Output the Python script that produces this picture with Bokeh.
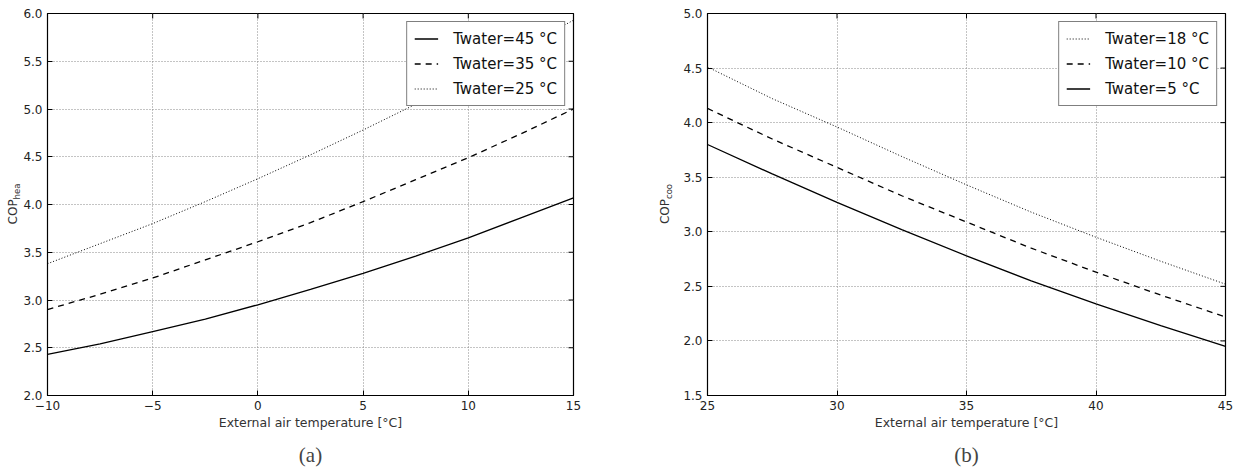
import math
from bokeh.plotting import figure
from bokeh.layouts import row
from bokeh.models import Legend, LegendItem, Title, FixedTicker, Div
from bokeh.embed import file_html
from bokeh.resources import INLINE

# ---- data: heating (a) ----
t_ext_hea = [-10, -7.5, -5, -2.5, 0, 2.5, 5, 7.5, 10, 12.5, 15]
cop_hea_45 = [2.43, 2.54, 2.67, 2.80, 2.95, 3.11, 3.28, 3.46, 3.65, 3.86, 4.07]
cop_hea_35 = [2.90, 3.06, 3.23, 3.42, 3.61, 3.81, 4.03, 4.26, 4.49, 4.74, 5.00]
cop_hea_25 = [3.38, 3.59, 3.80, 4.03, 4.27, 4.52, 4.78, 5.05, 5.34, 5.63, 5.93]

# ---- data: cooling (b) ----
t_ext_coo = [25, 27.5, 30, 32.5, 35, 37.5, 40, 42.5, 45]
cop_coo_18 = [4.51, 4.22, 3.96, 3.69, 3.43, 3.18, 2.95, 2.73, 2.52]
cop_coo_10 = [4.13, 3.85, 3.59, 3.33, 3.09, 2.85, 2.63, 2.42, 2.22]
cop_coo_5 = [3.80, 3.53, 3.27, 3.02, 2.78, 2.55, 2.34, 2.14, 1.95]

xticks_hea = [-10, -5, 0, 5, 10, 15]
yticks_hea = [2.0, 2.5, 3.0, 3.5, 4.0, 4.5, 5.0, 5.5, 6.0]
xticks_coo = [25, 30, 35, 40, 45]
yticks_coo = [1.5, 2.0, 2.5, 3.0, 3.5, 4.0, 4.5, 5.0]

FONT = "DejaVu Sans"
FIG_H = 474


def style_axis(ax, ticks):
    ax.ticker = FixedTicker(ticks=ticks)
    ax.major_tick_in = 5
    ax.major_tick_out = 0
    ax.minor_tick_line_color = None
    ax.axis_line_color = "black"
    ax.major_tick_line_color = "black"
    ax.major_label_text_font = FONT
    ax.major_label_text_color = "#222222"
    ax.major_label_text_font_size = "12px"
    ax.major_label_standoff = 5


def make_fig(xr, yr, xticks, yticks, border_left, border_right, frame_w):
    p = figure(frame_width=frame_w, frame_height=382, x_range=xr, y_range=yr,
               output_backend="svg", toolbar_location=None,
               min_border_left=border_left, min_border_right=border_right,
               min_border_top=13, min_border_bottom=10)
    p.outline_line_color = "black"
    p.outline_line_width = 1.2
    xa = p.below[0]
    ya = p.left[0]
    style_axis(xa, xticks)
    style_axis(ya, yticks)
    xa.major_label_overrides = {t: (str(t).replace("-", "\u2212")) for t in xticks}
    ya.major_label_overrides = {t: f"{t:.1f}" for t in yticks}
    xa.axis_label = "External air temperature [\u00b0C]"
    xa.axis_label_standoff = 2
    xa.axis_label_text_font = FONT
    xa.axis_label_text_font_style = "normal"
    xa.axis_label_text_font_size = "12.5px"
    xa.axis_label_text_color = "#333333"
    p.grid.grid_line_color = "#888888"
    p.grid.grid_line_dash = "1 2"
    p.grid.grid_line_width = 1
    p.xgrid.ticker = FixedTicker(ticks=xticks)
    p.ygrid.ticker = FixedTicker(ticks=yticks)
    # inward ticks on the top and right edges (clipped half of a dash marker)
    p.scatter(xticks, [yr[1]] * len(xticks), marker="dash", size=10,
              angle=math.pi / 2, line_color="black", line_width=1)
    p.scatter([xr[1]] * len(yticks), yticks, marker="dash", size=10,
              line_color="black", line_width=1)
    return p


def add_legend(p, items):
    leg = Legend(items=items, location="top_right")
    leg.border_line_color = "black"
    leg.border_line_width = 1.2
    leg.label_text_font = FONT
    leg.label_text_font_size = "15px"
    leg.label_text_color = "#111111"
    leg.glyph_width = 24
    leg.glyph_height = 19
    leg.label_height = 19
    leg.spacing = 6
    leg.padding = 7
    leg.margin = 8
    leg.label_standoff = 15
    leg.background_fill_alpha = 1
    p.add_layout(leg)


def add_caption(p, text):
    p.add_layout(Title(text=text, align="center", text_font="Liberation Serif",
                       text_font_size="21px", text_font_style="normal",
                       standoff=16), "below")


def ylabel_div(sub, width, cx):
    html = (
        f'<div style="position:relative;width:{width}px;height:{FIG_H - 10}px;">'
        f'<div style="position:absolute;left:{cx}px;top:204px;'
        'transform:translate(-50%,-50%) rotate(-90deg);white-space:nowrap;'
        "font-family:'DejaVu Sans';font-size:12px;color:#333333;line-height:1;\">"
        f'COP<sub style="font-size:8.5px;">{sub}</sub></div></div>'
    )
    return Div(text=html, width=width, height=FIG_H - 10, margin=0)


# (a)
pa = make_fig((-10, 15), (2.0, 6.0), xticks_hea, yticks_hea, 27, 8, 526)
ra = pa.line(t_ext_hea, cop_hea_45, line_color="black", line_width=1.3)
rb = pa.line(t_ext_hea, cop_hea_35, line_color="black", line_width=1.3, line_dash="6 5")
rc = pa.line(t_ext_hea, cop_hea_25, line_color="black", line_width=1.0, line_dash="1 2")
add_legend(pa, [LegendItem(label="Twater=45 \u00b0C", renderers=[ra]),
                LegendItem(label="Twater=35 \u00b0C", renderers=[rb]),
                LegendItem(label="Twater=25 \u00b0C", renderers=[rc])])
add_caption(pa, "(a)")

# (b)
pb = make_fig((25, 45), (1.5, 5.0), xticks_coo, yticks_coo, 31, 8, 518)
sa = pb.line(t_ext_coo, cop_coo_18, line_color="black", line_width=1.0, line_dash="1 2")
sb = pb.line(t_ext_coo, cop_coo_10, line_color="black", line_width=1.3, line_dash="6 5")
sc = pb.line(t_ext_coo, cop_coo_5, line_color="black", line_width=1.3)
add_legend(pb, [LegendItem(label="Twater=18 \u00b0C", renderers=[sa]),
                LegendItem(label="Twater=10 \u00b0C", renderers=[sb]),
                LegendItem(label="Twater=5 \u00b0C", renderers=[sc])])
add_caption(pb, "(b)")

layout = row(ylabel_div("hea", 20, 14), pa, ylabel_div("coo", 95, 85), pb, spacing=0)
open("out.html", "w").write(file_html(layout, INLINE))
